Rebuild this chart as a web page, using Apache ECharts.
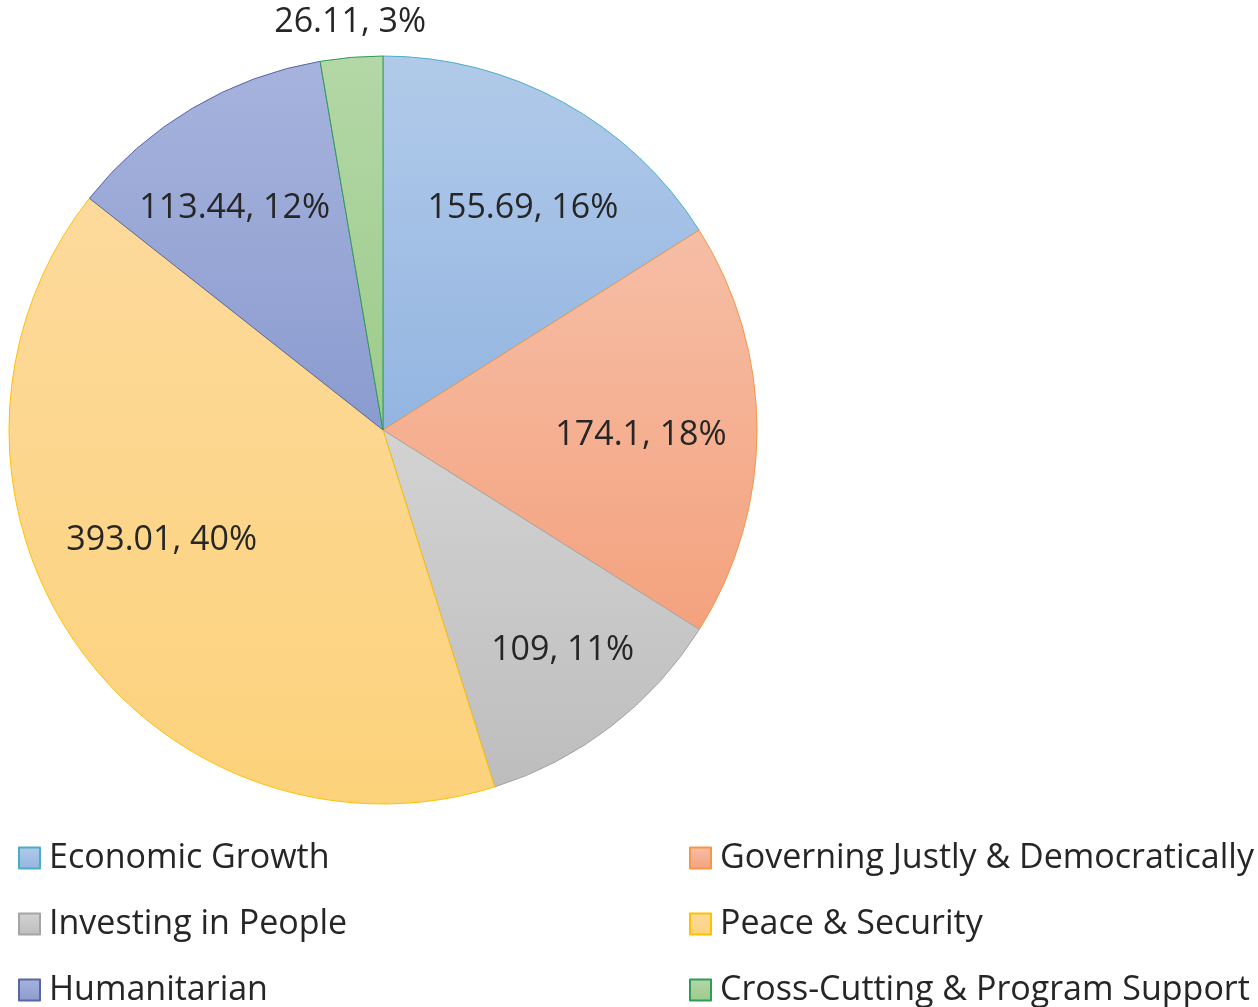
<!DOCTYPE html>
<html>
<head>
<meta charset="utf-8">
<script src="https://cdn.jsdelivr.net/npm/echarts@6/dist/echarts.min.js"></script>
<style>
  html, body { margin: 0; padding: 0; background: #fff; }
  #chart { width: 1258px; height: 1007px; }
</style>
</head>
<body>
<div id="chart"></div>
<script>
// slice names and values, clockwise from 12 o'clock
const categories = ['Economic Growth', 'Governing Justly & Democratically', 'Investing in People',
  'Peace & Security', 'Humanitarian', 'Cross-Cutting & Program Support']
const values = [155.69, 174.1, 109, 393.01, 113.44, 26.11]

// legend columns
const legendLeft = ['Economic Growth', 'Investing in People', 'Humanitarian']
const legendRight = ['Governing Justly & Democratically', 'Peace & Security', 'Cross-Cutting & Program Support']

// fill gradient top/bottom and edge colour per slice
const topColors = ['#b1cae9', '#f6bea6', '#d3d3d3', '#fdda9c', '#a7b3dd', '#b4d7a6']
const bottomColors = ['#93b5e1', '#f4a27e', '#bdbdbd', '#fcd27b', '#8a9bcf', '#9ccb8b']
const edgeColors = ['#4bacc6', '#f79646', '#a5a5a5', '#ffc000', '#5a66a6', '#2f9c5a']
// small nudges so the labels land where Excel's best-fit put them
const labelNudge = [[12, 10], [-7, 5], [18, 10], [-3, -40], [-13, 6], [2, 4]]

const FONT = 'Open Sans'
const TXT = '#262626'
const cx = 383, cy = 430, R = 374

const chart = echarts.init(document.getElementById('chart'))

const pieData = categories.map((name, i) => ({
  name: name,
  value: values[i],
  itemStyle: {
    color: new echarts.graphic.LinearGradient(0, 0, 0, 1, [
      { offset: 0, color: topColors[i] },
      { offset: 1, color: bottomColors[i] }
    ]),
    borderColor: edgeColors[i],
    borderWidth: 1
  }
}))

const labelStyle = {
  fontFamily: FONT,
  fontSize: 34,
  color: TXT,
  formatter: '{c}, {d}%'
}

// labels sit further out than ECharts' default "inside" spot, so put them on a transparent ring
const ringData = (showIdx) => values.map((v, i) => ({
  value: v,
  label: { show: showIdx(i), offset: labelNudge[i] }
}))

const legendBase = {
  orient: 'vertical',
  padding: 0,
  top: 837,
  height: 200,
  itemWidth: 21,
  itemHeight: 21,
  itemGap: 24,
  icon: 'rect',
  selectedMode: false,
  textStyle: { fontFamily: FONT, fontSize: 34, color: TXT, lineHeight: 42, padding: [0, 0, 0, 4] }
}

const option = {
  animation: false,
  legend: [
    Object.assign({}, legendBase, { left: 18, data: legendLeft }),
    Object.assign({}, legendBase, { left: 689, data: legendRight })
  ],
  series: [
    {
      type: 'pie',
      center: [cx, cy],
      radius: [0, R],
      startAngle: 90,
      clockwise: true,
      silent: true,
      label: { show: false },
      labelLine: { show: false },
      data: pieData
    },
    {
      type: 'pie',
      center: [cx, cy],
      radius: [150, R],
      startAngle: 90,
      silent: true,
      percentPrecision: 0,
      itemStyle: { color: 'rgba(0,0,0,0)', borderWidth: 0 },
      label: Object.assign({ position: 'inside' }, labelStyle),
      labelLine: { show: false },
      data: ringData(i => i !== 5)
    },
    {
      type: 'pie',
      center: [cx, cy],
      radius: [R, 446],
      startAngle: 90,
      silent: true,
      percentPrecision: 0,
      itemStyle: { color: 'rgba(0,0,0,0)', borderWidth: 0 },
      label: Object.assign({ position: 'inside' }, labelStyle),
      labelLine: { show: false },
      data: ringData(i => i === 5)
    }
  ]
}

chart.setOption(option)
</script>
</body>
</html>
